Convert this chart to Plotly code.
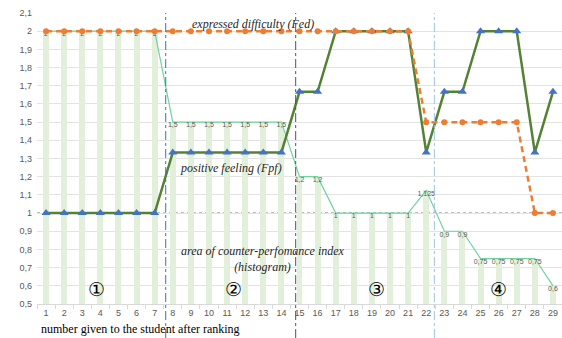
import plotly.graph_objects as go

students = list(range(1, 30))
area_index = [2, 2, 2, 2, 2, 2, 2,
              1.5, 1.5, 1.5, 1.5, 1.5, 1.5, 1.5,
              1.2, 1.2, 1, 1, 1, 1, 1, 1.125,
              0.9, 0.9, 0.75, 0.75, 0.75, 0.75, 0.6]
fpf = [1, 1, 1, 1, 1, 1, 1,
       4/3, 4/3, 4/3, 4/3, 4/3, 4/3, 4/3,
       5/3, 5/3, 2, 2, 2, 2, 2, 4/3,
       5/3, 5/3, 2, 2, 2, 4/3, 5/3]
fed = [2]*21 + [1.5]*6 + [1, 1]
area_labels = [f"{v:g}".replace(".", ",") for v in area_index]

group_bounds = [7.61, 14.79, 22.45]
group_colors = ["#2e75b6", "#44546a", "#9dc3e6"]
group_marks = ["①", "②", "③", "④"]
group_mark_x = [3.81, 11.33, 19.28, 25.97]

fig = go.Figure()
fig.add_trace(go.Bar(x=students, y=area_index, width=0.33,
                     marker=dict(color="#e2efda", line=dict(width=0)),
                     hoverinfo="skip"))
fig.add_trace(go.Scatter(x=students, y=area_index, mode="lines",
                         line=dict(color="#6fd39c", width=1.2)))
fig.add_trace(go.Scatter(x=students, y=area_index, mode="text", text=area_labels,
                         textposition="bottom center", cliponaxis=False,
                         textfont=dict(size=7, color="#595959", family="Liberation Sans")))
fig.add_trace(go.Scatter(x=students, y=fpf, mode="lines+markers",
                         line=dict(color="#548235", width=2.5),
                         marker=dict(symbol="triangle-up", size=8, color="#4472c4")))
fig.add_trace(go.Scatter(x=students, y=fed, mode="lines+markers",
                         line=dict(color="#ed7d31", width=2.5, dash="6px,4px"),
                         marker=dict(symbol="circle", size=6, color="#ed7d31")))

shapes = [dict(type="line", xref="paper", yref="y", x0=0, x1=1, y0=1, y1=1,
               line=dict(color="#7f7f7f", width=1.2, dash="dot"), layer="below")]
for xb, c in zip(group_bounds, group_colors):
    shapes.append(dict(type="line", xref="x", yref="paper", x0=xb, x1=xb,
                       y0=-0.117, y1=1.0, line=dict(color=c, width=1, dash="dashdot")))

serif = "Liberation Serif"
annotations = [
    dict(x=12.43, y=2.04, text="<i>expressed difficulty (Fed)</i>", showarrow=False,
         font=dict(family=serif, size=12, color="#262626")),
    dict(x=11.22, y=1.248, text="<i>positive feeling (Fpf)</i>", showarrow=False,
         font=dict(family=serif, size=12, color="#262626")),
    dict(x=13.01, y=0.748, text="<i>area of counter-perfomance index<br>(histogram)</i>",
         showarrow=False, font=dict(family=serif, size=12, color="#262626")),
    dict(xref="paper", yref="paper", x=0.004, y=-0.086, xanchor="left", yanchor="middle",
         text="number given to the student after ranking", showarrow=False,
         font=dict(family=serif, size=12, color="#000000")),
]
for mx, mk in zip(group_mark_x, group_marks):
    annotations.append(dict(x=mx, y=0.583, text=mk, showarrow=False,
                            font=dict(family="DejaVu Serif", size=19, color="#000000")))

fig.update_layout(
    width=562, height=338, margin=dict(l=37, r=0, t=13, b=34),
    paper_bgcolor="white", plot_bgcolor="white", showlegend=False,
    separators=", ", bargap=0,
    shapes=shapes, annotations=annotations,
    font=dict(family="Liberation Sans", color="#595959"),
)
fig.update_xaxes(range=[0.5, 29.5], tickmode="array", tickvals=students,
                 ticktext=[str(s) for s in students], tickfont=dict(size=9, color="#595959"),
                 showgrid=False, zeroline=False, showline=True, linecolor="#d9d9d9",
                 ticks="", minor=dict(tick0=0.5, dtick=1, ticks="outside", ticklen=4,
                                      tickcolor="#d9d9d9", showgrid=False))
fig.update_yaxes(range=[0.5, 2.1], dtick=0.1, tick0=0.5, showgrid=True, gridcolor="#e3e3e3",
                 zeroline=False, showline=False, tickfont=dict(size=9, color="#595959"),
                 ticks="", ticklabelstandoff=4)

fig.write_html("out.html", config={"displayModeBar": False},
               post_script="document.body.style.margin='0';document.body.style.overflow='hidden';")
